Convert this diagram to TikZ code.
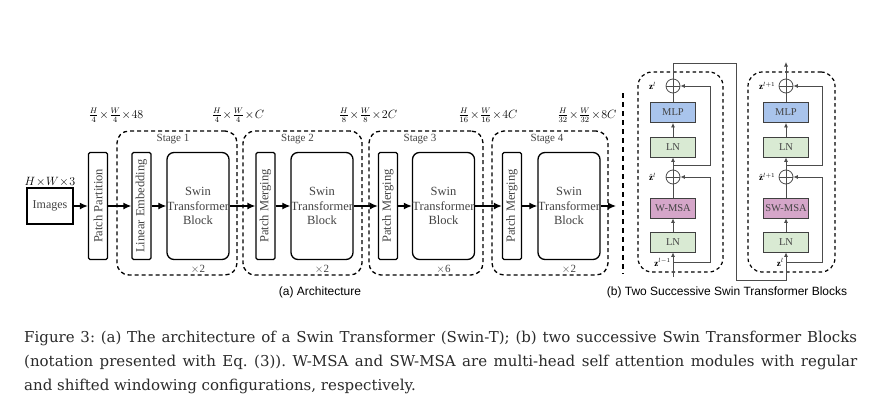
\documentclass[tikz,border=0pt]{standalone}
\usepackage{fontspec}
\setmainfont{Liberation Serif}
\newfontfamily\capfont{DejaVu Serif}
\newfontfamily\subfont{Liberation Sans}
\usetikzlibrary{arrows.meta,calc}
\definecolor{mlpblue}{HTML}{A9C4EC}
\definecolor{lngreen}{HTML}{D9EAD3}
\definecolor{msapink}{HTML}{D5A6C9}
\definecolor{txtgray}{HTML}{444444}
\definecolor{capgray}{HTML}{2A2A2A}
\frenchspacing
\newcommand{\tm}{\mkern1mu{\times}\mkern1mu}
\tikzset{
  bar/.style={draw, line width=1.3pt, rounded corners=1.5pt, rotate=90, minimum width=107pt, minimum height=19pt, inner sep=0pt, text=txtgray, font=\fontsize{12.5}{14}\selectfont},
  swin/.style={draw, line width=1.3pt, rounded corners=7pt, minimum width=62pt, minimum height=107pt, inner sep=0pt, align=center, text=txtgray, font=\fontsize{12.5}{14.5}\selectfont},
  stagebox/.style={draw, line width=1.3pt, dash pattern=on 4pt off 3pt, rounded corners=12pt, minimum height=144pt},
  stagelab/.style={text=txtgray, font=\fontsize{11}{12}\selectfont},
  dimlab/.style={inner sep=0pt, font=\fontsize{12}{14}\selectfont},
  flow/.style={line width=1.3pt, -{Latex[length=8pt,width=7pt]}},
  layer/.style={draw=black!75, line width=0.8pt, minimum width=45pt, minimum height=20pt, inner sep=0pt, text=txtgray, font=\fontsize{10.5}{12}\selectfont},
  addnode/.style={circle, draw=black!70, line width=0.8pt, minimum size=14pt, inner sep=0pt,
    path picture={\draw[black!70, line width=0.8pt] (path picture bounding box.north) -- (path picture bounding box.south)
      (path picture bounding box.west) -- (path picture bounding box.east);}},
  link/.style={draw=black!70, line width=0.8pt},
  linkarrow/.style={link, -{Latex[length=4.5pt,width=4pt]}},
  blockbox/.style={draw, line width=1.2pt, dash pattern=on 3.5pt off 3pt, rounded corners=14pt, minimum height=200pt},
  zlab/.style={inner sep=0pt, font=\fontsize{9}{10}\selectfont},
  subcap/.style={font=\subfont\fontsize{12}{14}\selectfont},
  capline/.style={inner sep=0pt, anchor=base west, text=capgray, font=\capfont\fontsize{15}{17}\selectfont}
}

\begin{document}
\begin{tikzpicture}[x=1pt, y=-1pt]
		%%%%% START %%%%%
		\useasboundingbox[fill=white] (0,0) rectangle (889,402);
		
		% (a) architecture
		\node[stagebox, minimum width=120pt] (st1) at (177,203) {};
		\node[stagebox, minimum width=119pt] (st2) at (302.5,203) {};
		\node[stagebox, minimum width=114pt] (st3) at (426,203) {};
		\node[stagebox, minimum width=116pt] (st4) at (550,203) {};
		
		\node[draw, line width=1.3pt, minimum width=46pt, minimum height=36pt, inner sep=0pt, text=txtgray, font=\fontsize{12}{14}\selectfont] (img) at (50,206) {Images};
		\node[font=\fontsize{13}{15}\selectfont] (imgdim) at (50,182) {$H\!\times\! W\!\times\! 3$};
		
		\node[bar] (pp) at (98,206) {Patch Partition};
		\node[bar] (le) at (141.5,206) {Linear Embedding};
		\node[swin] (sb1) at (198,206) {Swin\\Transformer\\Block};
		\node[bar] (pm2) at (265.5,206) {Patch Merging};
		\node[swin] (sb2) at (322,206) {Swin\\Transformer\\Block};
		\node[bar] (pm3) at (388,206) {Patch Merging};
		\node[swin] (sb3) at (443.5,206) {Swin\\Transformer\\Block};
		\node[bar] (pm4) at (512,206) {Patch Merging};
		\node[swin] (sb4) at (569,206) {Swin\\Transformer\\Block};
		\coordinate (out) at (616,206);
		
		\draw[flow] (img) -- (pp);
		\draw[flow] (pp) -- (le);
		\draw[flow] (le) -- (sb1);
		\draw[flow] (sb1) -- (pm2);
		\draw[flow] (pm2) -- (sb2);
		\draw[flow] (sb2) -- (pm3);
		\draw[flow] (pm3) -- (sb3);
		\draw[flow] (sb3) -- (pm4);
		\draw[flow] (pm4) -- (sb4);
		\draw[flow] (sb4) -- (out);
		
		\node[stagelab] (lab1) at ($(st1.north)+(-4,9)$) {Stage 1};
		\node[stagelab] (lab2) at ($(st2.north)+(-5,9)$) {Stage 2};
		\node[stagelab] (lab3) at ($(st3.north)+(-6,9)$) {Stage 3};
		\node[stagelab] (lab4) at ($(st4.north)+(-3,9)$) {Stage 4};
		\node[stagelab] (rep1) at ($(sb1.south)+(0,9)$) {$\times$2};
		\node[stagelab] (rep2) at ($(sb2.south)+(0,9)$) {$\times$2};
		\node[stagelab] (rep3) at ($(sb3.south)+(0,9)$) {$\times$6};
		\node[stagelab] (rep4) at ($(sb4.south)+(0,9)$) {$\times$2};
		
		\node[dimlab] (dim0) at (116,115) {$\frac{H}{4}\tm\frac{W}{4}\tm48$};
		\node[dimlab] (dim1) at (238,115) {$\frac{H}{4}\tm\frac{W}{4}\tm C$};
		\node[dimlab] (dim2) at (368,115) {$\frac{H}{8}\tm\frac{W}{8}\tm2C$};
		\node[dimlab] (dim3) at (488,115) {$\frac{H}{16}\tm\frac{W}{16}\tm4C$};
		\node[dimlab] (dim4) at (587,115) {$\frac{H}{32}\tm\frac{W}{32}\tm8C$};
		
		\node[subcap] (capa) at (320,292) {(a) Architecture};
		
		\draw[line width=2.5pt, dash pattern=on 5pt off 4pt] (623,93) -- (623,274);
		
		% (b) two successive blocks
		\node[blockbox, minimum width=85pt] (bxA) at (680.5,172) {};
		\node[layer, fill=lngreen] (lnA1) at (673,242) {LN};
		\node[layer, fill=msapink] (msaA) at (673,208) {W-MSA};
		\node[addnode] (addA1) at (673,177) {};
		\node[layer, fill=lngreen] (lnA2) at (673,147) {LN};
		\node[layer, fill=mlpblue] (mlpA) at (673,112.5) {MLP};
		\node[addnode] (addA2) at (673,86) {};
		\coordinate (inA) at (673,277);
		\coordinate (resA1) at (673,262);
		\coordinate (resA2) at (673,165);
		\coordinate (topA) at (673,63);
		
		\node[blockbox, minimum width=87pt] (bxB) at (791.5,172) {};
		\node[layer, fill=lngreen] (lnB1) at (786,242) {LN};
		\node[layer, fill=msapink] (msaB) at (786,208) {SW-MSA};
		\node[addnode] (addB1) at (786,177) {};
		\node[layer, fill=lngreen] (lnB2) at (786,147) {LN};
		\node[layer, fill=mlpblue] (mlpB) at (786,112.5) {MLP};
		\node[addnode] (addB2) at (786,86) {};
		\coordinate (botB) at (786,280);
		\coordinate (resB1) at (786,262);
		\coordinate (resB2) at (786,165);
		\coordinate (outB) at (786,62);
		
		\draw[linkarrow] (inA) -- (lnA1);
		\draw[linkarrow] (lnA1) -- (msaA);
		\draw[link] (msaA) -- (addA1);
		\draw[linkarrow] (addA1) -- (lnA2);
		\draw[linkarrow] (lnA2) -- (mlpA);
		\draw[link] (mlpA) -- (addA2);
		\draw[linkarrow] (resA1) -- ++(37,0) |- (addA1);
		\draw[linkarrow] (resA2) -- ++(37,0) |- (addA2);
		\draw[linkarrow] (addA2) -- (topA) -- ++(63,0) |- (botB) -- (lnB1);
		
		\draw[linkarrow] (lnB1) -- (msaB);
		\draw[link] (msaB) -- (addB1);
		\draw[linkarrow] (addB1) -- (lnB2);
		\draw[linkarrow] (lnB2) -- (mlpB);
		\draw[link] (mlpB) -- (addB2);
		\draw[linkarrow] (resB1) -- ++(36,0) |- (addB1);
		\draw[linkarrow] (resB2) -- ++(36,0) |- (addB2);
		\draw[linkarrow] (addB2) -- (outB);
		
		\node[zlab, anchor=west] (zA2) at (649,86) {$\mathbf{z}^{l}$};
		\node[zlab, anchor=west] (zA1) at (649,177) {$\hat{\mathbf{z}}^{l}$};
		\node[zlab, anchor=east] (zA0) at (671,262) {$\mathbf{z}^{l-1}$};
		\node[zlab, anchor=west] (zB2) at (759,86) {$\mathbf{z}^{l+1}$};
		\node[zlab, anchor=west] (zB1) at (759,177) {$\hat{\mathbf{z}}^{l+1}$};
		\node[zlab, anchor=east] (zB0) at (784,262) {$\mathbf{z}^{l}$};
		
		\node[subcap] (capb) at (727,292) {(b) Two Successive Swin Transformer Blocks};
		
		% caption
		\node[capline] (cap1) at (24,342) {\makebox[833pt][s]{Figure 3: (a) The architecture of a Swin Transformer (Swin-T); (b) two successive Swin Transformer Blocks}};
		\node[capline] (cap2) at (24,366) {\makebox[833pt][s]{(notation presented with Eq. (3)). W-MSA and SW-MSA are multi-head self attention modules with regular}};
		\node[capline] (cap3) at (24,390) {and shifted windowing configurations, respectively.};
		
		%%%%% END %%%%%
	\end{tikzpicture}
\end{document}
